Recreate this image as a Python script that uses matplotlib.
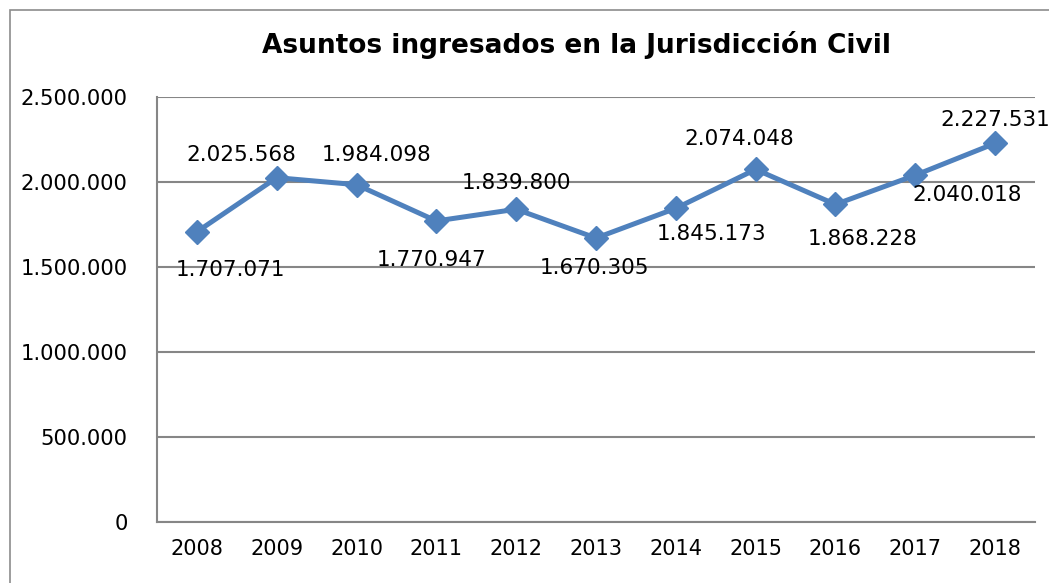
import matplotlib.pyplot as plt
from matplotlib.patches import Rectangle

years = ['2008', '2009', '2010', '2011', '2012', '2013', '2014', '2015', '2016', '2017', '2018']
asuntos = [1707071, 2025568, 1984098, 1770947, 1839800, 1670305, 1845173, 2074048, 1868228, 2040018, 2227531]
yticks = [0, 500000, 1000000, 1500000, 2000000, 2500000]

# label offsets in pixels (dx, dy), placed by hand like in the original
offs = [(34, -38), (-35, 23), (20, 30), (-5, -39), (0, 26), (-2, -30),
        (36, -26), (-16, 30), (27, -35), (52, -20), (0, 23)]

def fmt(v):
    return '{:,}'.format(v).replace(',', '.')

plt.rcParams['font.family'] = 'DejaVu Sans'
fig = plt.figure(figsize=(10.49, 5.83), dpi=100)
ax = fig.add_axes([157/1049, 61/583, 878/1049, 425/583])

# outer frame
fig.patches.append(Rectangle((10/1049, -0.1), 1.2, (573/583) + 0.1, transform=fig.transFigure,
                             fill=False, edgecolor='#8c8c8c', linewidth=1.2))

x = list(range(len(years)))
ax.plot(x, asuntos, color='#4f81bd', linewidth=3.6, marker='D', markersize=12, zorder=3)

for i, v in enumerate(asuntos):
    ax.annotate(fmt(v), (x[i], v), xytext=offs[i], textcoords='offset pixels',
                ha='center', va='center', fontsize=15.5, color='black', zorder=4)

ax.set_xlim(-0.5, len(years) - 0.5)
ax.set_ylim(0, 2500000)
ax.set_yticks(yticks)
ax.set_yticklabels([fmt(t) for t in yticks], fontsize=15.2)
ax.set_xticks(x)
ax.set_xticklabels(years, fontsize=15)
ax.tick_params(length=0)
ax.tick_params(axis='y', pad=21)
ax.tick_params(axis='x', pad=12)
ax.grid(axis='y', color='#868686', linewidth=1.5)
ax.set_axisbelow(True)
for s in ['top', 'right']:
    ax.spines[s].set_visible(False)
for s in ['left', 'bottom']:
    ax.spines[s].set_color('#868686')
    ax.spines[s].set_linewidth(1.5)

fig.text(577/1049, 1 - 45/583, 'Asuntos ingresados en la Jurisdicción Civil',
         ha='center', va='center', fontsize=19, fontweight='bold')

fig.savefig('out.png', dpi=100)
